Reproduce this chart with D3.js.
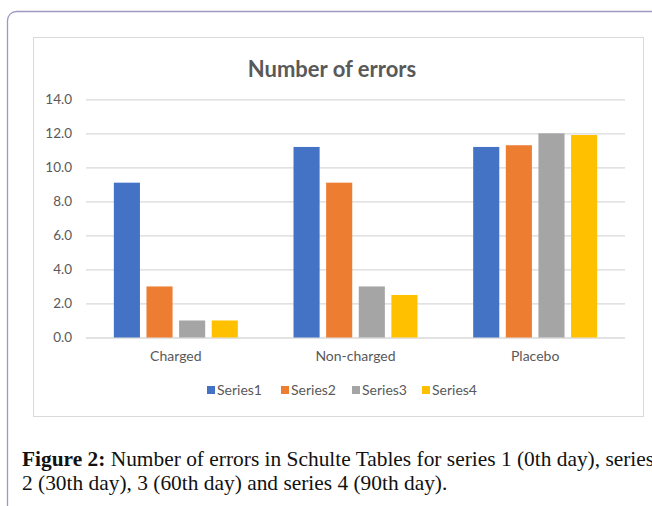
<!DOCTYPE html>
<html>
<head>
<meta charset="utf-8">
<script src="https://cdn.jsdelivr.net/npm/d3@7"></script>
<style>
  html, body { margin: 0; padding: 0; background: #fff; }
  svg { display: block; }
</style>
</head>
<body>
<svg id="chart" width="652" height="506"></svg>
<script>
// Chart data
const categories = ["Charged", "Non-charged", "Placebo"];
const seriesNames = ["Series1", "Series2", "Series3", "Series4"];
const series1 = [9.1, 11.2, 11.2];
const series2 = [3.0, 9.1, 11.3];
const series3 = [1.0, 3.0, 12.0];
const series4 = [1.0, 2.5, 11.9];
const yTicks = [0, 2, 4, 6, 8, 10, 12, 14];
const seriesColors = ["#4472C4", "#ED7D31", "#A5A5A5", "#FFC000"];

const seriesValues = [series1, series2, series3, series4];
const rows = categories.map((c, i) => ({
  category: c,
  values: seriesNames.map((s, j) => ({ series: s, value: seriesValues[j][i] }))
}));

const svg = d3.select("#chart");
const font = "Lato, 'Open Sans', sans-serif";

// Outer page frame with rounded corner
svg.append("rect")
  .attr("x", 7.5).attr("y", 11.5)
  .attr("width", 700).attr("height", 600)
  .attr("rx", 9)
  .attr("fill", "#fff")
  .attr("stroke", "#9f98c2")
  .attr("stroke-width", 1.3);

// Chart area box
svg.append("rect")
  .attr("x", 33.5).attr("y", 37.5)
  .attr("width", 610).attr("height", 379)
  .attr("fill", "#fff")
  .attr("stroke", "#d9d9d9")
  .attr("stroke-width", 1);

const plot = { left: 86, right: 625, top: 99.3, bottom: 337.5 };

const y = d3.scaleLinear().domain([0, 14]).range([plot.bottom, plot.top]);
const x0 = d3.scaleBand().domain(categories)
  .range([plot.left, plot.right])
  .paddingInner(0.31).paddingOuter(0.155);
const x1 = d3.scaleBand().domain(seriesNames)
  .range([0, x0.bandwidth()])
  .paddingInner(0.2).paddingOuter(0);
const color = d3.scaleOrdinal().domain(seriesNames).range(seriesColors);

// Gridlines and y tick labels
const yAxis = d3.axisLeft(y)
  .tickValues(yTicks)
  .tickFormat(d3.format(".1f"))
  .tickSize(-(plot.right - plot.left))
  .tickPadding(14);

const gy = svg.append("g")
  .attr("transform", `translate(${plot.left},0)`)
  .call(yAxis);
gy.select(".domain").remove();
gy.selectAll(".tick line").attr("stroke", "#d9d9d9").attr("stroke-width", 1.3);
gy.selectAll(".tick text")
  .attr("fill", "#595959")
  .style("font-family", font)
  .style("font-size", "13.5px");

// Bars
const groups = svg.append("g").selectAll("g")
  .data(rows)
  .join("g")
  .attr("transform", d => `translate(${x0(d.category)},0)`);

groups.selectAll("rect")
  .data(d => d.values)
  .join("rect")
  .attr("x", d => x1(d.series))
  .attr("y", d => y(d.value))
  .attr("width", x1.bandwidth())
  .attr("height", d => y(0) - y(d.value))
  .attr("fill", d => color(d.series));

// Category axis labels
const xAxis = d3.axisBottom(x0).tickSize(0).tickPadding(14);
const gx = svg.append("g")
  .attr("transform", `translate(0,${plot.bottom})`)
  .call(xAxis);
gx.select(".domain").remove();
gx.selectAll(".tick text")
  .attr("fill", "#595959")
  .style("font-family", font)
  .style("font-size", "14px");

// Title
svg.append("text")
  .attr("x", 332).attr("y", 77)
  .attr("text-anchor", "middle")
  .attr("fill", "#595959")
  .style("font-family", font)
  .style("font-size", "22px")
  .style("font-weight", "bold")
  .text("Number of errors");

// Legend
const legendX = [207, 281, 352, 422];
const legend = svg.append("g").selectAll("g")
  .data(seriesNames)
  .join("g")
  .attr("transform", (d, i) => `translate(${legendX[i]},386)`);
legend.append("rect")
  .attr("width", 8).attr("height", 8)
  .attr("fill", d => color(d));
legend.append("text")
  .attr("x", 10).attr("y", 9)
  .attr("fill", "#595959")
  .style("font-family", font)
  .style("font-size", "14px")
  .text(d => d);

// Figure caption
const captionFont = "'Liberation Serif', 'Times New Roman', serif";
const caption = svg.append("text")
  .attr("x", 22).attr("y", 466)
  .attr("fill", "#111")
  .style("font-family", captionFont)
  .style("font-size", "21.4px");
caption.append("tspan").style("font-weight", "bold").text("Figure 2:");
caption.append("tspan").text(" Number of errors in Schulte Tables for series 1 (0th day), series");
svg.append("text")
  .attr("x", 22).attr("y", 490)
  .attr("fill", "#111")
  .style("font-family", captionFont)
  .style("font-size", "21.4px")
  .text("2 (30th day), 3 (60th day) and series 4 (90th day).");
</script>
</body>
</html>
